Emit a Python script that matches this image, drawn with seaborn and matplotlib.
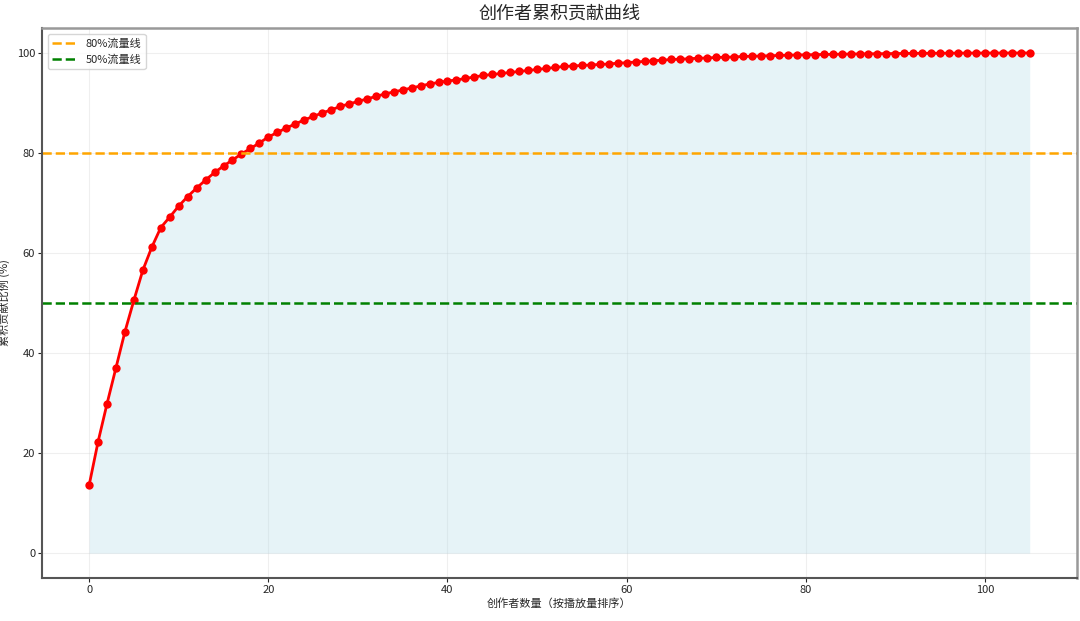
import matplotlib
matplotlib.use("Agg")
import matplotlib.pyplot as plt
import seaborn as sns
import numpy as np
import pandas as pd

title = "创作者累积贡献曲线"
x_label = "创作者数量（按播放量排序）"
y_label = "累积贡献比例 (%)"
line80_label = "80%流量线"
line50_label = "50%流量线"

cumulative_pct = [
    13.6, 22.3, 29.9, 37.1, 44.3, 50.6, 56.6, 61.2, 65.1, 67.2,
    69.4, 71.3, 73.0, 74.6, 76.1, 77.4, 78.6, 79.8, 80.9, 82.0,
    83.2, 84.1, 85.0, 85.8, 86.6, 87.3, 88.0, 88.6, 89.3, 89.8,
    90.3, 90.8, 91.3, 91.8, 92.2, 92.6, 93.0, 93.4, 93.8, 94.1,
    94.4, 94.6, 94.9, 95.2, 95.5, 95.7, 95.9, 96.1, 96.3, 96.5,
    96.7, 96.9, 97.1, 97.3, 97.4, 97.5, 97.6, 97.7, 97.8, 97.95,
    98.05, 98.2, 98.3, 98.45, 98.55, 98.7, 98.75, 98.85, 98.95, 99.0,
    99.1, 99.15, 99.2, 99.3, 99.35, 99.4, 99.45, 99.5, 99.55, 99.6,
    99.63, 99.67, 99.7, 99.73, 99.76, 99.79, 99.81, 99.83, 99.85, 99.87,
    99.89, 99.9, 99.92, 99.93, 99.94, 99.95, 99.96, 99.97, 99.975, 99.98,
    99.985, 99.99, 99.993, 99.996, 99.998, 100.0,
]
creator_index = list(range(len(cumulative_pct)))

df = pd.DataFrame({"idx": creator_index, "pct": cumulative_pct})

sns.set_style("white")
plt.rcParams["font.family"] = ["Noto Sans CJK SC", "DejaVu Sans"]
plt.rcParams["axes.unicode_minus"] = False

fig = plt.figure(figsize=(10.8, 6.21), dpi=100)
ax = fig.add_axes([0.039, 0.069, 0.958, 0.886])

ax.fill_between(df["idx"], df["pct"], color="lightblue", alpha=0.3, linewidth=0)
sns.lineplot(data=df, x="idx", y="pct", ax=ax, color="red", linewidth=2,
             marker="o", markersize=6, markeredgewidth=0, legend=False)
ax.axhline(80, color="orange", linestyle="--", linewidth=1.8, label=line80_label)
ax.axhline(50, color="green", linestyle="--", linewidth=1.8, label=line50_label)

ax.set_xlim(-5.25, 110.25)
ax.set_ylim(-5, 105)
ax.set_xticks([0, 20, 40, 60, 80, 100])
ax.set_yticks([0, 20, 40, 60, 80, 100])
ax.grid(True, alpha=0.3)
ax.tick_params(axis="both", labelsize=8, length=3, pad=2, direction="out",
               bottom=True, left=True)

ax.set_title(title, fontsize=13, fontweight="medium", pad=7)
ax.set_xlabel(x_label, fontsize=8, labelpad=2)
ax.set_ylabel(y_label, fontsize=8)
ax.yaxis.set_label_coords(-0.031, 0.5)

for side in ["top", "right"]:
    ax.spines[side].set_color("#999999")
    ax.spines[side].set_linewidth(1.8)
for side in ["left", "bottom"]:
    ax.spines[side].set_color("#555555")
    ax.spines[side].set_linewidth(1.5)

ax.legend(loc="upper left", fontsize=8, frameon=True, handlelength=2.2)

fig.savefig("out.png", dpi=100)
